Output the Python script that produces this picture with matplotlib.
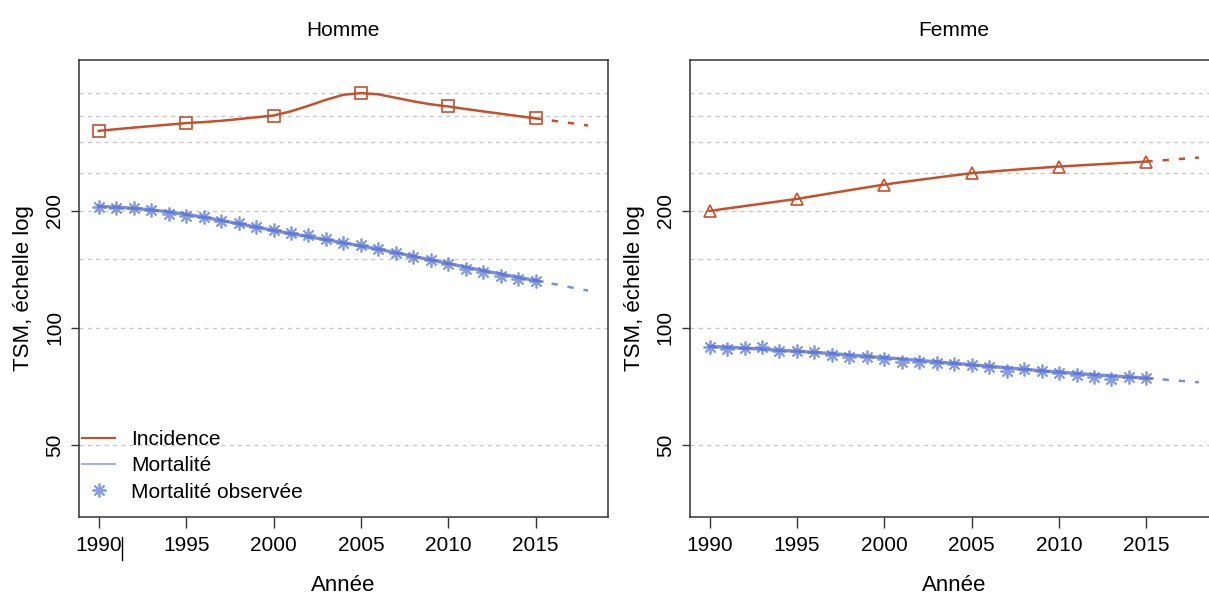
import numpy as np
import matplotlib.pyplot as plt
from matplotlib.lines import Line2D

# Standardised rates (TSM), per year; model curves and observed mortality
years = np.arange(1990, 2016)
proj_years = np.arange(2015, 2019)

inc_h = [320.4, 323.5, 326.6, 329.5, 332.4, 335.4, 337.4, 340.0, 343.4, 347.1,
         350.8, 359.6, 371.5, 384.9, 396.5, 400.5, 397.6, 389.5, 381.5, 374.8,
         370.0, 364.5, 359.4, 354.5, 349.6, 345.0]
inc_h_proj = [345.0, 340.2, 335.4, 330.7]
mort_h_fit = [205.0, 204.1, 202.7, 200.8, 198.5, 195.6, 192.3, 188.7, 185.1, 181.4,
              177.9, 174.6, 171.4, 168.4, 165.3, 162.3, 159.2, 155.9, 152.7, 149.4,
              146.3, 143.2, 140.3, 137.5, 134.8, 132.3]
mort_h_proj = [132.3, 129.7, 127.1, 124.6]
mort_h_obs = [204.8, 203.6, 202.9, 201.2, 196.5, 194.2, 192.3, 188.5, 186.0, 181.3,
              178.8, 175.0, 172.9, 169.5, 164.9, 163.3, 159.2, 155.5, 151.8, 149.4,
              146.2, 141.7, 139.0, 136.2, 133.8, 132.2]

inc_f = [199.6, 202.5, 205.4, 208.3, 211.3, 214.3, 218.0, 221.8, 225.6, 229.4,
         233.2, 236.6, 239.8, 243.1, 246.3, 249.5, 251.6, 253.7, 255.6, 257.6,
         259.4, 261.0, 262.5, 264.1, 265.6, 267.2]
inc_f_proj = [267.2, 269.3, 271.5, 273.6]
mort_f_fit = [89.6, 89.2, 88.7, 88.2, 87.6, 87.1, 86.5, 85.9, 85.2, 84.5,
              83.9, 83.2, 82.5, 81.8, 81.1, 80.4, 79.7, 79.0, 78.3, 77.6,
              77.0, 76.4, 75.8, 75.3, 74.8, 74.3]
mort_f_proj = [74.3, 73.7, 73.1, 72.5]
mort_f_obs = [89.2, 88.5, 88.7, 89.2, 87.4, 87.3, 86.6, 85.2, 84.4, 84.4,
              83.1, 81.8, 81.9, 81.4, 80.8, 80.3, 79.5, 77.5, 78.3, 77.7,
              76.5, 75.6, 75.0, 74.1, 74.7, 74.3]

grid_levels = [50, 100, 150, 200, 250, 300, 350, 400]
y_ticks = [50, 100, 200]
x_ticks = [1990, 1995, 2000, 2005, 2010, 2015]

RED = "#C4502C"
BLUE = "#5672D6"

font = ["Liberation Sans", "DejaVu Sans"]

fig = plt.figure(figsize=(12.09, 5.94), dpi=100)
W, H = 1209, 594


def add_ax(x0, x1, y0, y1):
    return fig.add_axes([x0 / W, 1 - y1 / H, (x1 - x0) / W, (y1 - y0) / H])


axes = [add_ax(79.2, 607.6, 60, 517), add_ax(690.0, 1218.4, 60, 517)]
panels = [
    ("Homme", inc_h, inc_h_proj, mort_h_fit, mort_h_proj, mort_h_obs, "s"),
    ("Femme", inc_f, inc_f_proj, mort_f_fit, mort_f_proj, mort_f_obs, "^"),
]

star = (8, 2, 0)

for ax, (title, inc, inc_p, mfit, mfit_p, mobs, mk) in zip(axes, panels):
    ax.set_yscale("log")
    ax.set_xlim(1988.88, 2019.12)
    ax.set_ylim(32.7, 487)

    for g in grid_levels:
        ax.axhline(g, color="#C8C8C8", lw=1.0, ls=(0, (3, 3)), zorder=0)

    # observed mortality
    ax.plot(years, mobs, ls="none", marker=star, ms=10, mew=1.3,
            color=BLUE, alpha=0.7, zorder=2)
    # fitted mortality + projection
    ax.plot(years, mfit, color=BLUE, lw=2.4, alpha=0.8, zorder=3)
    ax.plot(proj_years, mfit_p, color=BLUE, lw=1.8, alpha=0.8,
            ls=(0, (2.5, 4)), zorder=3)
    # incidence + projection
    ax.plot(years, inc, color=RED, lw=1.8, zorder=3)
    ax.plot(years, inc, ls="none", marker=mk, markevery=5, ms=8,
            mfc="none", mec=RED, mew=1.2, zorder=4)
    ax.plot(proj_years, inc_p, color=RED, lw=1.8, ls=(0, (2.5, 4)), zorder=3)

    ax.set_yticks(y_ticks)
    ax.set_yticklabels([str(t) for t in y_ticks], rotation=90, va="center",
                       family=font, fontsize=15)
    ax.yaxis.set_minor_locator(plt.NullLocator())
    ax.set_xticks(x_ticks)
    ax.set_xticklabels([str(t) for t in x_ticks], family=font, fontsize=15)
    ax.tick_params(axis="x", length=8, width=1, pad=6, color="#333333")
    ax.tick_params(axis="y", length=6, width=1, pad=5, color="#333333")

    for side in ["top", "right", "left", "bottom"]:
        ax.spines[side].set_color("#333333")
        ax.spines[side].set_linewidth(1.1)

    ax.set_title(title, family=font, fontsize=15, pad=17)
    ax.set_xlabel("Année", family=font, fontsize=16, labelpad=14)
    ax.set_ylabel("TSM, échelle log", family=font, fontsize=16, labelpad=8)

handles = [
    Line2D([], [], color=RED, lw=1.5),
    Line2D([], [], color=BLUE, lw=1.5, alpha=0.55),
    Line2D([], [], ls="none", marker=star, ms=10, mew=1.3, color=BLUE, alpha=0.7),
]
axes[0].legend(handles, ["Incidence", "Mortalité", "Mortalité observée"],
               loc="upper left", bbox_to_anchor=(0.005, 0.19), frameon=False,
               prop={"family": font, "size": 15}, handlelength=1.6,
               handletextpad=0.75, labelspacing=0.35, borderpad=0, borderaxespad=0)

# stray cursor mark just after the first year label
fig.add_artist(Line2D([122 / W, 122 / W], [1 - 560 / H, 1 - 537 / H],
                      color="black", lw=1.0))

fig.savefig("out.png", dpi=100)
